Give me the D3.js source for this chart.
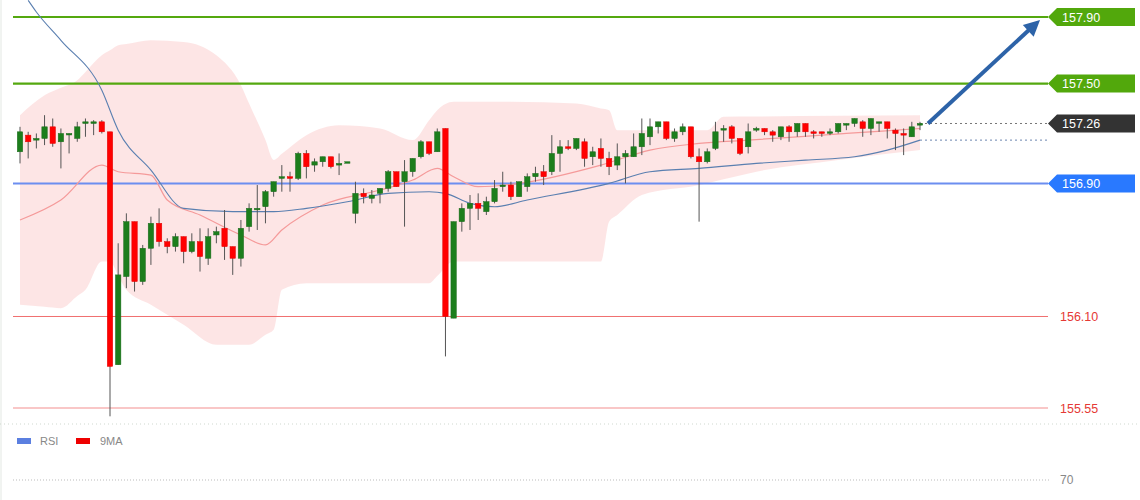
<!DOCTYPE html>
<html><head><meta charset="utf-8">
<script src="https://cdn.jsdelivr.net/npm/d3@7"></script>
<style>body{margin:0;background:#fff}svg{display:block;font-family:"Liberation Sans",Arial,sans-serif}</style>
</head><body><svg id="c" width="1140" height="500"></svg>
<script>
// OHLC per bar
const opens  = [157.09,157.19,157.16,157.17,157.24,157.15,157.20,157.17,157.26,157.26,157.27,157.21,155.81,156.34,156.67,156.31,156.51,156.66,156.55,156.52,156.58,156.49,156.55,156.45,156.59,156.63,156.52,156.45,156.64,156.75,156.76,156.85,156.93,156.94,156.93,157.08,157.01,157.03,157.06,157.01,157.03,156.72,156.84,156.81,156.84,156.87,156.97,156.91,156.97,157.06,157.15,157.09,157.23,156.09,156.67,156.75,156.78,156.73,156.79,156.88,156.89,156.82,156.88,156.94,156.97,156.97,157.08,157.12,157.11,157.15,157.06,157.11,157.05,157.01,157.06,157.06,157.12,157.18,157.24,157.27,157.17,157.21,157.24,157.06,157.03,157.11,157.22,157.24,157.17,157.12,157.22,157.23,157.21,157.18,157.24,157.21,157.26,157.21,157.21,157.21,157.21,157.25,157.26,157.27,157.23,157.27,157.27,157.22,157.20,157.18,157.25];
const highs  = [157.24,157.21,157.20,157.31,157.29,157.23,157.20,157.27,157.29,157.28,157.28,157.21,156.54,156.72,156.67,156.53,156.70,156.75,156.57,156.60,156.58,156.60,156.63,156.63,156.64,156.74,156.52,156.68,156.78,156.89,156.86,156.91,157.01,156.97,157.09,157.10,157.05,157.06,157.06,157.08,157.03,156.91,156.87,156.86,156.87,156.98,156.97,157.04,157.05,157.16,157.15,157.23,157.23,156.67,156.78,156.83,156.84,156.82,156.92,156.97,156.91,156.91,156.96,157.00,157.01,157.19,157.16,157.16,157.17,157.17,157.12,157.17,157.09,157.14,157.10,157.20,157.29,157.29,157.27,157.27,157.23,157.26,157.24,157.11,157.11,157.27,157.25,157.25,157.17,157.26,157.24,157.23,157.22,157.24,157.25,157.26,157.26,157.22,157.21,157.23,157.26,157.26,157.29,157.28,157.29,157.27,157.27,157.23,157.23,157.27,157.27];
const lows   = [157.02,157.05,157.11,157.13,157.12,156.99,157.08,157.15,157.18,157.19,157.20,155.50,155.81,156.27,156.25,156.29,156.41,156.52,156.48,156.49,156.42,156.48,156.37,156.41,156.54,156.44,156.35,156.40,156.61,156.62,156.66,156.82,156.85,156.85,156.92,156.93,156.97,157.00,156.99,156.95,157.03,156.66,156.78,156.78,156.78,156.85,156.88,156.64,156.94,157.05,157.07,157.09,155.86,156.09,156.61,156.62,156.68,156.71,156.78,156.85,156.80,156.82,156.85,156.91,156.89,156.95,156.97,157.10,157.10,157.00,157.01,157.00,156.95,156.98,156.90,157.06,157.07,157.13,157.20,157.16,157.15,157.19,157.05,156.67,157.02,157.10,157.15,157.14,157.07,157.08,157.21,157.19,157.15,157.16,157.15,157.18,157.18,157.17,157.18,157.19,157.20,157.22,157.24,157.18,157.19,157.21,157.17,157.10,157.07,157.18,157.22];
const closes = [157.21,157.15,157.17,157.24,157.14,157.20,157.20,157.24,157.27,157.27,157.21,155.80,156.35,156.67,156.31,156.51,156.66,156.55,156.52,156.58,156.49,156.55,156.46,156.58,156.61,156.52,156.45,156.63,156.75,156.75,156.85,156.91,156.94,156.93,157.08,157.00,157.03,157.06,157.00,157.02,157.03,156.84,156.82,156.83,156.87,156.97,156.88,156.97,157.05,157.15,157.08,157.21,156.10,156.67,156.75,156.78,156.75,156.79,156.87,156.89,156.82,156.91,156.94,156.96,156.94,157.08,157.12,157.11,157.17,157.05,157.09,157.05,157.00,157.06,157.08,157.12,157.20,157.24,157.27,157.17,157.21,157.24,157.06,157.03,157.09,157.21,157.23,157.17,157.08,157.21,157.23,157.21,157.19,157.24,157.21,157.26,157.21,157.20,157.20,157.21,157.26,157.26,157.29,157.23,157.29,157.27,157.23,157.20,157.19,157.24,157.26];
// Bollinger bands [bar index, price]
const upperBand = [[0,157.31],[3,157.43],[7,157.52],[10,157.67],[12,157.73],[16,157.76],[20,157.75],[24,157.67],[27,157.49],[30,157.16],[31,157.04],[35,157.19],[39,157.25],[44,157.23],[48,157.16],[51,157.34],[53,157.39],[60,157.39],[68,157.38],[72,157.34],[73,157.22],[84,157.22],[86,157.30],[110,157.31]];
const lowerBand = [[0,156.17],[5,156.15],[8,156.26],[10,156.43],[11,156.43],[13,156.26],[16,156.17],[20,156.05],[24,155.93],[28,155.93],[31,156.02],[32,156.26],[35,156.30],[50,156.30],[53,156.43],[71,156.43],[72,156.67],[76,156.83],[83,156.89],[90,156.97],[100,157.04],[110,157.10]];
const maRed  = [[0,156.68],[5,156.80],[10,157.01],[12,156.97],[16,156.95],[18,156.80],[22,156.71],[27,156.59],[30,156.53],[32,156.62],[37,156.77],[44,156.86],[48,156.92],[51,156.99],[53,156.94],[56,156.88],[61,156.90],[71,157.01],[77,157.10],[83,157.14],[89,157.16],[95,157.18],[101,157.20],[110,157.23]];
const maBlue = [[1,158.00],[2,157.93],[5,157.76],[10,157.46],[12,157.22],[16,156.98],[20,156.75],[26,156.73],[31,156.73],[35,156.75],[40,156.79],[45,156.84],[50,156.85],[52,156.84],[55,156.78],[58,156.76],[62,156.80],[72,156.90],[77,156.97],[83,156.99],[90,157.02],[96,157.04],[102,157.06],[106,157.10],[110,157.16]];
const levelValues = [157.90,157.50,157.26,156.90,156.10,155.55];
const levelLabels = ["157.90","157.50","157.26","156.90","156.10","155.55"];
const legendNames = ["RSI","9MA"];
const rsiTick = ["70"];

const svg = d3.select("#c");
const y = d3.scaleLinear().domain([155.55,157.90]).range([408,17]);
const x = d3.scaleLinear().domain([0,110]).range([20,920]);
const W = 1048;

svg.append("line").attr("x1",1).attr("x2",1).attr("y1",0).attr("y2",500).attr("stroke","#e3e8e3");

// band
const area = d3.area().curve(d3.curveMonotoneX)
  .x(d=>x(d[0])).y0(d=>y(d[1])).y1(d=>y(d[2]));
const bandData = upperBand.map(u=>u[0]).concat(lowerBand.map(l=>l[0]));
const idxs = Array.from(new Set(bandData)).sort((a,b)=>a-b);
const interp = arr => i => { for(let k=0;k<arr.length-1;k++){ if(i>=arr[k][0]&&i<=arr[k+1][0]){const t=(i-arr[k][0])/(arr[k+1][0]-arr[k][0]||1);return arr[k][1]+t*(arr[k+1][1]-arr[k][1]);}} return arr[arr.length-1][1];};
const uI = interp(upperBand), lI = interp(lowerBand);
svg.append("path").datum(idxs.map(i=>[i,lI(i),uI(i)])).attr("d",area).attr("fill","#fde2e2").attr("opacity",0.9);

// levels
const lvl = (v,c,w)=>svg.append("line").attr("x1",13).attr("x2",W).attr("y1",y(v)).attr("y2",y(v)).attr("stroke",c).attr("stroke-width",w);
lvl(levelValues[0],"#54a80f",2.2);
lvl(levelValues[1],"#54a80f",2.2);
lvl(levelValues[3],"#6c8ef0",2);
lvl(levelValues[4],"#f07070",1);
lvl(levelValues[5],"#f7b4b4",1.5);

const line = d3.line().curve(d3.curveMonotoneX).x(d=>x(d[0])).y(d=>y(d[1]));
svg.append("path").datum(maRed).attr("d",line).attr("fill","none").attr("stroke","#f59a9a").attr("stroke-width",1.2);
svg.append("path").datum(maBlue).attr("d",line).attr("fill","none").attr("stroke","#5a7fb0").attr("stroke-width",1.1);

// dotted extensions
svg.append("line").attr("x1",x(110)).attr("x2",W).attr("y1",y(closes[110])).attr("y2",y(closes[110])).attr("stroke","#777").attr("stroke-dasharray","2,3");
svg.append("line").attr("x1",x(110)).attr("x2",W).attr("y1",y(maBlue[maBlue.length-1][1])).attr("y2",y(maBlue[maBlue.length-1][1])).attr("stroke","#6a85b0").attr("stroke-dasharray","2,3");

// candles
const g = svg.append("g");
opens.forEach((o,i)=>{
  const c=closes[i], up=c>=o, cx=x(i);
  g.append("line").attr("x1",cx).attr("x2",cx).attr("y1",y(highs[i])).attr("y2",y(lows[i])).attr("stroke","#555").attr("stroke-width",1);
  const t=y(Math.max(o,c)), b=y(Math.min(o,c));
  g.append("rect").attr("x",cx-2.7).attr("width",5.4).attr("y",t).attr("height",Math.max(1.5,b-t))
   .attr("fill",up?"#1c7e1c":"#ff0000").attr("stroke",up?"#1c6a1c":"#e00000").attr("stroke-width",0.5);
});

// arrow
const ax1=x(110)+8, ay1=y(157.26), ax2=1040, ay2=y(157.90)+3;
svg.append("line").attr("x1",ax1).attr("y1",ay1).attr("x2",ax2-10).attr("y2",ay2+9).attr("stroke","#2d63a8").attr("stroke-width",4);
const ang=Math.atan2(ay2-ay1,ax2-ax1);
const hp=[[ax2,ay2],[ax2-16*Math.cos(ang)+8*Math.sin(ang),ay2-16*Math.sin(ang)-8*Math.cos(ang)],[ax2-16*Math.cos(ang)-8*Math.sin(ang),ay2-16*Math.sin(ang)+8*Math.cos(ang)]];
svg.append("polygon").attr("points",hp.map(p=>p.join(",")).join(" ")).attr("fill","#2d63a8");

// tags
const tag=(i,fill)=>{const yy=y(levelValues[i]);
  svg.append("path").attr("d",`M1048,${yy} L1057,${yy-9} L1135,${yy-9} L1135,${yy+9} L1057,${yy+9} Z`).attr("fill",fill);
  svg.append("text").attr("x",1062).attr("y",yy+4.5).attr("fill","#fff").attr("font-size",12.5).text(levelLabels[i]);};
tag(0,"#52a80c");tag(1,"#52a80c");tag(2,"#333");tag(3,"#2979ff");
[4,5].forEach(i=>svg.append("text").attr("x",1060).attr("y",y(levelValues[i])+4.5).attr("fill","#e53935").attr("font-size",12.5).text(levelLabels[i]));

// bottom panel
svg.append("line").attr("x1",0).attr("x2",1140).attr("y1",424).attr("y2",424).attr("stroke","#cfd8cf").attr("stroke-dasharray","1,3");
svg.append("rect").attr("x",17).attr("y",438).attr("width",14).attr("height",6).attr("fill","#5b7fe0");
svg.append("text").attr("x",40).attr("y",445).attr("font-size",11).attr("fill","#888").text(legendNames[0]);
svg.append("rect").attr("x",76).attr("y",438).attr("width",14).attr("height",6).attr("fill","#ee0000");
svg.append("text").attr("x",100).attr("y",445).attr("font-size",11).attr("fill","#888").text(legendNames[1]);
svg.append("line").attr("x1",13).attr("x2",1050).attr("y1",480).attr("y2",480).attr("stroke","#bbb").attr("stroke-dasharray","1,2");
svg.append("text").attr("x",1060).attr("y",484).attr("font-size",12).attr("fill","#888").text(rsiTick[0]);
</script></body></html>
